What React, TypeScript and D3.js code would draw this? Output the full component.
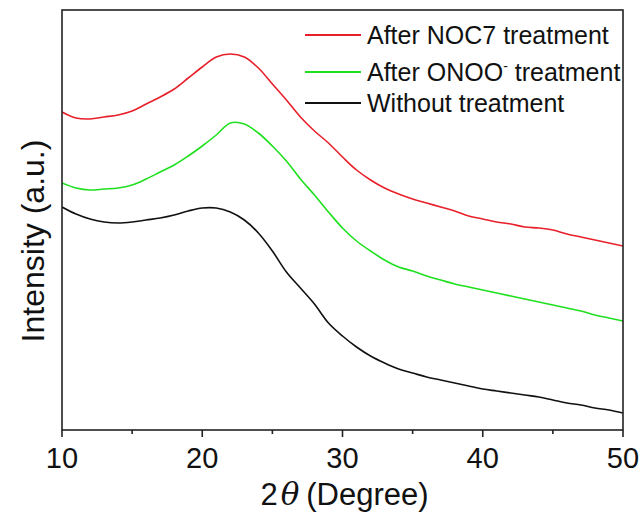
import React from "react";
import * as d3 from "d3";

const twoTheta: number[] = [
  10, 11, 12, 13, 14, 15, 16, 17, 18, 19, 20, 21, 22, 23, 24, 25, 26, 27, 28, 29, 30,
  31, 32, 33, 34, 35, 36, 37, 38, 39, 40, 41, 42, 43, 44, 45, 46, 47, 48, 49, 50,
];

const noc7: number[] = [
  318, 312, 311, 313, 315, 319, 326, 333, 341, 352, 363, 373, 376, 373, 362, 346, 330, 313, 299, 287, 273,
  260, 250, 242, 236, 231, 227, 223, 219, 214, 211, 208, 206, 203, 202, 200, 196, 193, 190, 187, 184,
];

const onoo: number[] = [
  247, 242, 240, 241, 242, 245, 251, 258, 265, 274, 284, 295, 307, 306, 297, 284, 269, 251, 235, 218, 202,
  189, 179, 170, 163, 159, 154, 150, 146, 143, 140, 137, 134, 131, 128, 125, 122, 119, 115, 112, 109,
];

const untreated: number[] = [
  223, 216, 211, 208, 207, 208, 210, 212, 215, 219, 222, 222, 218, 210, 197, 179, 158, 142, 126, 107, 94,
  83, 74, 67, 61, 57, 53, 50, 47, 44, 41, 39, 37, 35, 33, 30, 27, 25, 22, 20, 17,
];

const xTicks: number[] = [10, 20, 30, 40, 50];
const xMinorTicks: number[] = [15, 25, 35, 45];

const seriesNames: string[] = ["After NOC7 treatment", "After ONOO", "Without treatment"];
const seriesColors: string[] = ["#e8202a", "#1fe01f", "#111111"];

export default function App() {
  const W = 643;
  const H = 518;
  const left = 62, right = 623, top = 10, bottom = 430;

  const x = d3.scaleLinear().domain([10, 50]).range([left, right]);
  const y = d3.scaleLinear().domain([0, 420]).range([bottom, top]);

  const line = d3
    .line<[number, number]>()
    .x((d) => x(d[0]))
    .y((d) => y(d[1]))
    .curve(d3.curveCatmullRom.alpha(0.5));

  const allSeries = [noc7, onoo, untreated];
  const font = "'Liberation Sans', Arial, Helvetica, sans-serif";
  const legendY = [35, 72, 103];

  return (
    <svg
      width={W}
      height={H}
      style={{ position: "absolute", left: 0, top: 0, background: "#fff" }}
      fontFamily={font}
    >
      <defs>
        <clipPath id="plotclip">
          <rect x={left} y={top} width={right - left} height={bottom - top} />
        </clipPath>
      </defs>
      <g clipPath="url(#plotclip)">
        {allSeries.map((s, i) => (
          <path
            key={i}
            d={line(twoTheta.map((t, j) => [t, s[j]] as [number, number])) || ""}
            fill="none"
            stroke={seriesColors[i]}
            strokeWidth={1.6}
          />
        ))}
      </g>
      <rect
        x={left}
        y={top}
        width={right - left}
        height={bottom - top}
        fill="none"
        stroke="#222"
        strokeWidth={1.6}
      />
      {xTicks.map((t) => (
        <g key={t}>
          <line x1={x(t)} x2={x(t)} y1={bottom} y2={bottom + 7} stroke="#222" strokeWidth={1.6} />
          <text x={x(t)} y={468} textAnchor="middle" fontSize={29} fill="#111">
            {t}
          </text>
        </g>
      ))}
      {xMinorTicks.map((t) => (
        <line key={t} x1={x(t)} x2={x(t)} y1={bottom} y2={bottom + 4} stroke="#222" strokeWidth={1.6} />
      ))}
      <text x={(left + right) / 2 + 2} y={505} textAnchor="middle" fontSize={31} fill="#111">
        <tspan>2</tspan>
        <tspan fontStyle="italic" fontFamily="'DejaVu Serif', serif" dx={3}>θ</tspan>
        <tspan dx={7}>(Degree)</tspan>
      </text>
      <text
        transform={`translate(44, 241) rotate(-90)`}
        textAnchor="middle"
        fontSize={32}
        fill="#111"
      >
        Intensity (a.u.)
      </text>
      {seriesNames.map((n, i) => (
        <g key={n}>
          <line x1={305} x2={361} y1={legendY[i]} y2={legendY[i]} stroke={seriesColors[i]} strokeWidth={2} />
          <text x={367} y={legendY[i] + 9} fontSize={25} fill="#111">
            {i === 1 ? (
              <>
                <tspan>{n}</tspan>
                <tspan fontSize={14} dy={-10}>-</tspan>
                <tspan dy={10}> treatment</tspan>
              </>
            ) : (
              n
            )}
          </text>
        </g>
      ))}
    </svg>
  );
}
